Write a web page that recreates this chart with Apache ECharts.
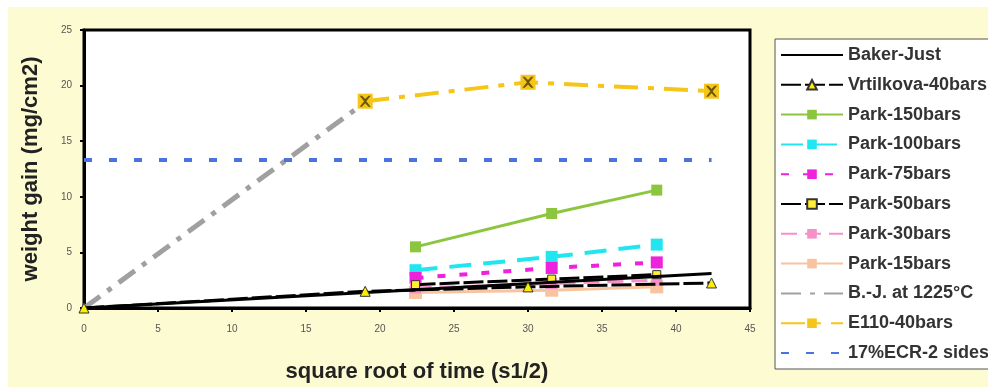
<!DOCTYPE html>
<html lang="en">
<head>
<meta charset="UTF-8">
<title>weight gain</title>
<script src="https://cdn.jsdelivr.net/npm/echarts@6/dist/echarts.min.js"></script>
<style>
  html, body { margin: 0; padding: 0; background: #fff; }
  #main { width: 988px; height: 389px; }
</style>
</head>
<body>
<div id="main"></div>
<script>
// square root of time for each data set (s1/2)
var xBaker = [0, 42.4];
var yBaker = [0, 3.1];

var xVrt = [0, 19, 30, 42.4];
var yVrt = [0, 1.5, 1.9, 2.25];

var xPark = [22.4, 31.6, 38.7];
var yPark150 = [5.5, 8.5, 10.6];
var yPark100 = [3.4, 4.6, 5.7];
var yPark75 = [2.7, 3.6, 4.1];
var yPark50 = [2.1, 2.6, 3.0];
var yPark30 = [1.8, 2.2, 2.5];
var yPark15 = [1.4, 1.6, 1.9];

var xBJ = [0, 19];
var yBJ = [0, 18.5];

var xE110 = [19, 30, 42.4];
var yE110 = [18.6, 20.3, 19.5];

var xECR = [0, 42.4];
var yECR = [13.3, 13.3];

var xTicks = [0, 45, 5];   // min, max, step
var yTicks = [0, 25, 5];

var legendNames = ['Baker-Just', 'Vrtilkova-40bars', 'Park-150bars', 'Park-100bars', 'Park-75bars',
  'Park-50bars', 'Park-30bars', 'Park-15bars', 'B.-J. at 1225°C', 'E110-40bars', '17%ECR-2 sides'];
// lines drawn without a marker in the legend too
var noMarker = ['Baker-Just', 'B.-J. at 1225°C', '17%ECR-2 sides'];

function pairs(xs, ys) {
  var out = [];
  for (var i = 0; i < xs.length; i++) out.push([xs[i], ys[i]]);
  return out;
}

var chart = echarts.init(document.getElementById('main'));

var legendData = legendNames.map(function (n) {
  if (noMarker.indexOf(n) >= 0) {
    return { name: n, itemStyle: { color: 'rgba(0,0,0,0)', borderWidth: 0, opacity: 0 } };
  }
  return { name: n };
});

var option = {
  backgroundColor: '#ffffff',
  animation: false,
  textStyle: { fontFamily: 'Liberation Sans, Arial, sans-serif' },
  graphic: [
    { type: 'rect', z: -10, shape: { x: 8, y: 7, width: 980, height: 380 }, style: { fill: '#fdfbd2' } },
    { type: 'rect', z: -5, shape: { x: 775, y: 39, width: 220, height: 330 },
      style: { fill: '#ffffff', stroke: '#555', lineWidth: 1 } }
  ],
  grid: {
    left: 84, top: 30, right: 238, bottom: 81,
    show: true, backgroundColor: '#ffffff', borderColor: '#000', borderWidth: 3
  },
  legend: {
    orient: 'vertical',
    left: 780, top: 46, height: 340, padding: 0,
    itemWidth: 62, itemHeight: 12, itemGap: 11.8,
    textStyle: { fontSize: 18, fontWeight: 'bold', color: '#333' },
    data: legendData
  },
  xAxis: {
    type: 'value', min: xTicks[0], max: xTicks[1], interval: xTicks[2],
    name: 'square root of time (s1/2)', nameLocation: 'middle', nameGap: 53,
    nameTextStyle: { fontSize: 22, fontWeight: 'bold', color: '#222' },
    axisLine: { show: true, lineStyle: { color: '#000', width: 3 } },
    axisTick: { show: true, length: 4, lineStyle: { color: '#000', width: 2 } },
    axisLabel: { fontSize: 10, color: '#555', margin: 16 },
    splitLine: { show: false }
  },
  yAxis: {
    type: 'value', min: yTicks[0], max: yTicks[1], interval: yTicks[2],
    name: 'weight gain (mg/cm2)', nameLocation: 'middle', nameGap: 42, nameRotate: 90,
    nameTextStyle: { fontSize: 22, fontWeight: 'bold', color: '#222' },
    axisLine: { show: true, lineStyle: { color: '#000', width: 3 } },
    axisTick: { show: true, length: 4, lineStyle: { color: '#000', width: 2 } },
    axisLabel: { fontSize: 10, color: '#555', margin: 12 },
    splitLine: { show: false }
  },
  series: [
    {
      name: 'Baker-Just', type: 'line', data: pairs(xBaker, yBaker), showSymbol: false, symbol: 'none',
      lineStyle: { color: '#000', width: 3 }, itemStyle: { color: '#000' }, z: 5
    },
    {
      name: 'Vrtilkova-40bars', type: 'line', data: pairs(xVrt, yVrt),
      symbol: 'triangle', symbolSize: 10,
      lineStyle: { color: '#000', width: 3, type: [20, 4] },
      itemStyle: { color: '#ffee00', borderColor: '#333', borderWidth: 1 }, z: 6
    },
    {
      name: 'Park-150bars', type: 'line', data: pairs(xPark, yPark150),
      symbol: 'rect', symbolSize: 11,
      lineStyle: { color: '#8cc63f', width: 3 }, itemStyle: { color: '#8cc63f' }
    },
    {
      name: 'Park-100bars', type: 'line', data: pairs(xPark, yPark100),
      symbol: 'rect', symbolSize: 12,
      lineStyle: { color: '#22e6ef', width: 4, type: [22, 12] }, itemStyle: { color: '#22e6ef' }
    },
    {
      name: 'Park-75bars', type: 'line', data: pairs(xPark, yPark75),
      symbol: 'rect', symbolSize: 12,
      lineStyle: { color: '#ee22dd', width: 4, type: [8, 14] }, itemStyle: { color: '#ee22dd' }
    },
    {
      name: 'Park-50bars', type: 'line', data: pairs(xPark, yPark50),
      symbol: 'rect', symbolSize: 8,
      lineStyle: { color: '#000', width: 3, type: [20, 4] },
      itemStyle: { color: '#ffee33', borderColor: '#333', borderWidth: 1 }, z: 4
    },
    {
      name: 'Park-30bars', type: 'line', data: pairs(xPark, yPark30),
      symbol: 'rect', symbolSize: 11,
      lineStyle: { color: '#f590c8', width: 3, type: [16, 8] }, itemStyle: { color: '#f590c8' }, z: 3
    },
    {
      name: 'Park-15bars', type: 'line', data: pairs(xPark, yPark15),
      symbol: 'rect', symbolSize: 13,
      lineStyle: { color: '#f8c4a0', width: 3 }, itemStyle: { color: '#f8c4a0' }, z: 2
    },
    {
      name: 'B.-J. at 1225°C', type: 'line', data: pairs(xBJ, yBJ), showSymbol: false, symbol: 'none',
      lineStyle: { color: '#a0a0a0', width: 5, type: [20, 9, 5, 9] }, itemStyle: { color: '#a0a0a0' }
    },
    {
      name: 'E110-40bars', type: 'line', data: pairs(xE110, yE110),
      symbol: 'rect', symbolSize: 15,
      lineStyle: { color: '#f5c518', width: 4, type: [24, 10, 6, 10] },
      itemStyle: { color: '#f5c518' }, z: 6
    },
    {
      name: 'E110-X', type: 'scatter', data: pairs(xE110, yE110), silent: true,
      symbol: 'path://M0,0 L2,0 L5,3 L8,0 L10,0 L6,5 L10,10 L8,10 L5,7 L2,10 L0,10 L4,5 Z',
      symbolSize: 11, itemStyle: { color: '#4a3a00' }, z: 7
    },
    {
      name: '17%ECR-2 sides', type: 'line', data: pairs(xECR, yECR), showSymbol: false, symbol: 'none',
      lineStyle: { color: '#4a72e0', width: 4, type: [8, 17] }, itemStyle: { color: '#4a72e0' }
    }
  ]
};

chart.setOption(option);
</script>
</body>
</html>
